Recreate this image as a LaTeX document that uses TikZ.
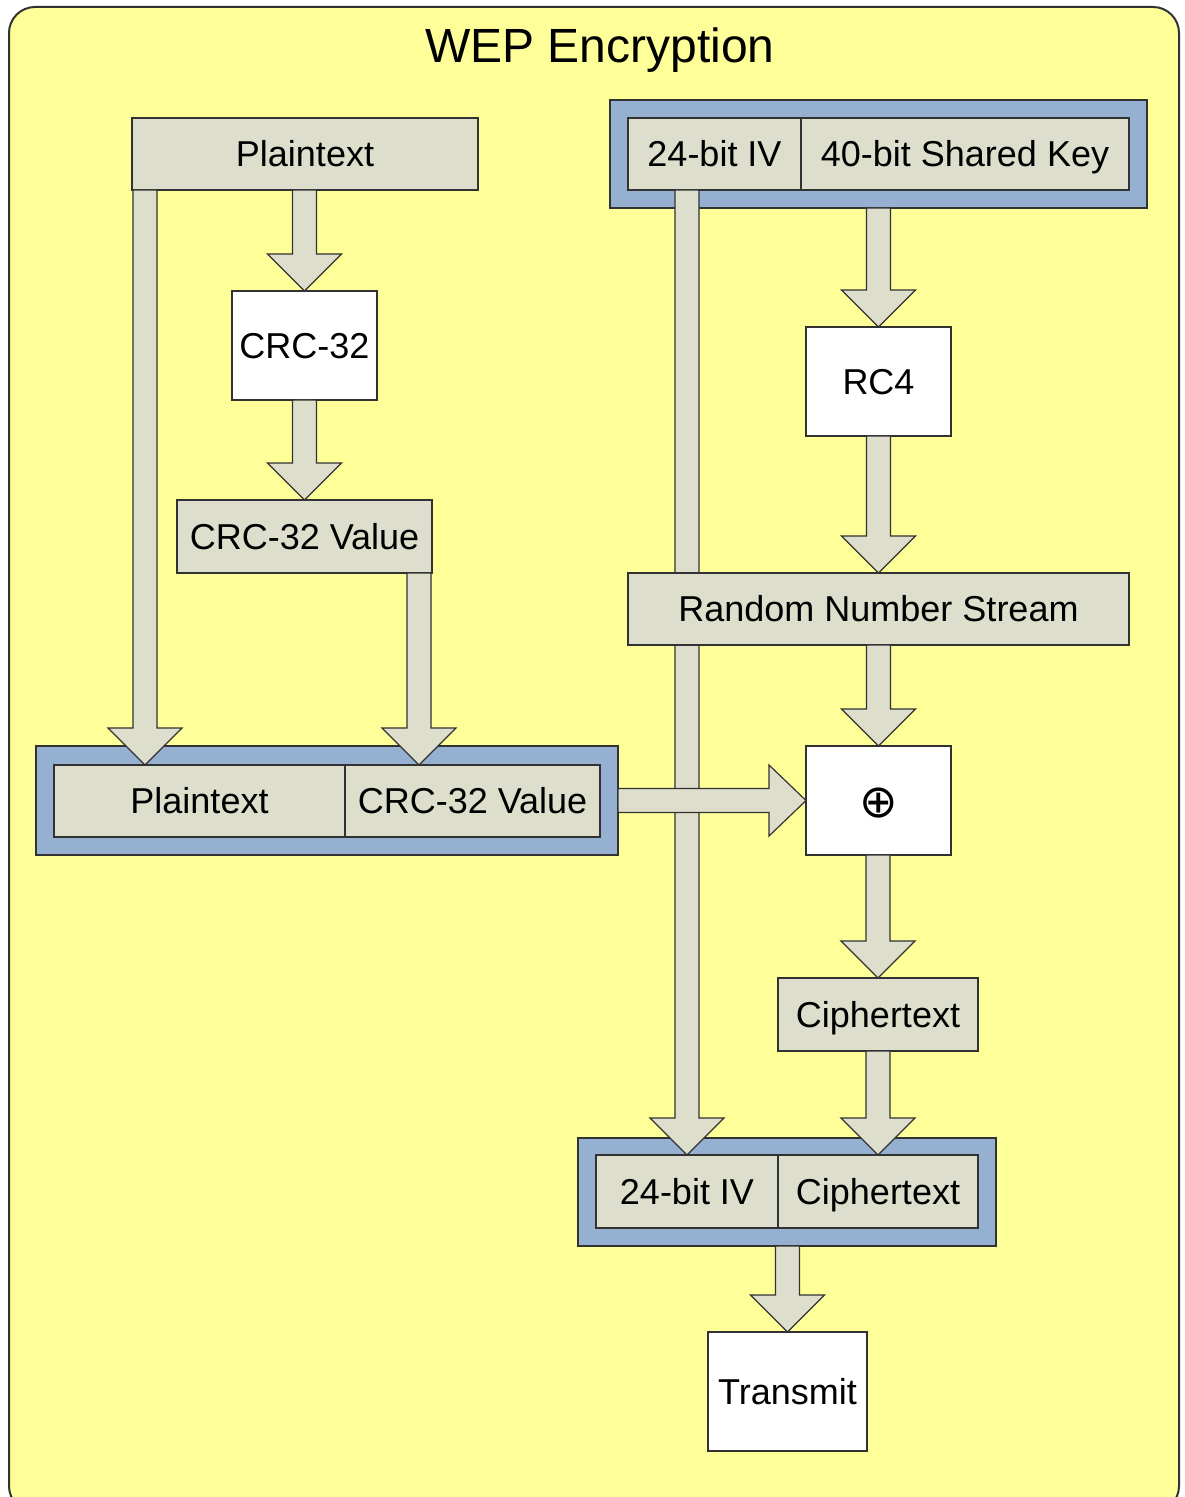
\documentclass[tikz,border=0pt]{standalone}
\usepackage{fontspec}
\setmainfont{Liberation Sans}
\newfontfamily\symbolfont{DejaVu Sans}
\usetikzlibrary{calc}

\definecolor{pagefill}{RGB}{255,255,153}
\definecolor{cellfill}{RGB}{221,222,204}
\definecolor{framefill}{RGB}{149,176,209}
\definecolor{edge}{RGB}{50,50,50}

\tikzset{
  cell/.style={draw=edge, line width=0.8pt, fill=cellfill, inner sep=0pt, outer sep=0pt,
    font=\fontsize{18}{20}\selectfont, text height=12.9pt, text depth=0pt},
  whitebox/.style={cell, fill=white},
  frame/.style={draw=edge, line width=0.8pt, fill=framefill, inner sep=0pt, outer sep=0pt},
  blockarrow/.style={draw=edge, line width=0.6pt, fill=cellfill, line join=miter},
}

% downward block arrow: shaft starts at the height of #1, tip lands on #2
\newcommand\downblock[2]{%
  \path[blockarrow] let \p1=#1, \p2=#2 in
    (\x2-6pt,\y1) -- (\x2-6pt,\y2+18.5pt) -- (\x2-18.5pt,\y2+18.5pt) -- (\x2,\y2)
    -- (\x2+18.5pt,\y2+18.5pt) -- (\x2+6pt,\y2+18.5pt) -- (\x2+6pt,\y1) -- cycle;}

% rightward block arrow: shaft starts at #1, tip lands on #2
\newcommand\rightblock[2]{%
  \path[blockarrow] let \p1=#1, \p2=#2 in
    (\x1,\y2+6pt) -- (\x2-18.5pt,\y2+6pt) -- (\x2-18.5pt,\y2+17.75pt) -- (\x2,\y2)
    -- (\x2-18.5pt,\y2-17.75pt) -- (\x2-18.5pt,\y2-6pt) -- (\x1,\y2-6pt) -- cycle;}

\begin{document}
\begin{tikzpicture}[x=0.5pt,y=-0.5pt]
\useasboundingbox (0,0) rectangle (1184,1497);
\clip (0,0) rectangle (1184,1497);
\fill[white] (0,0) rectangle (1184,1497);

% sheet
\draw[draw=edge, line width=1pt, fill=pagefill, rounded corners=13pt] (9,7) rectangle (1179,1512);
\node[font=\fontsize{24}{28}\selectfont, anchor=base, inner sep=0pt] (title) at (600,63) {WEP Encryption};

% key frame: IV + shared key
\node[frame, minimum width=268.5pt, minimum height=54pt] (keyframe) at (878.5,154) {};
\node[cell, minimum width=86.5pt, minimum height=36pt] (iv) at (714.5,154) {24-bit IV};
\node[cell, minimum width=164pt, minimum height=36pt] (key) at (965,154) {40-bit Shared Key};

% message frame: plaintext + checksum
\node[frame, minimum width=291pt, minimum height=54.5pt] (msgframe) at (327,800.5) {};
\node[cell, minimum width=145.5pt, minimum height=36pt] (msgpt) at (199.5,801) {Plaintext};
\node[cell, minimum width=127.5pt, minimum height=36pt] (msgcrc) at (472.5,801) {CRC-32 Value};

% output frame: IV + ciphertext
\node[frame, minimum width=209pt, minimum height=54pt] (outframe) at (787,1192) {};
\node[cell, minimum width=91pt, minimum height=36.5pt] (outiv) at (687,1191.5) {24-bit IV};
\node[cell, minimum width=100pt, minimum height=36.5pt] (outct) at (878,1191.5) {Ciphertext};

% IV passes straight through to the output frame (behind the stream box)
\downblock{(iv.south)}{(outiv.north)}

% processing boxes
\node[cell, minimum width=173pt, minimum height=36pt] (plain) at (305,154) {Plaintext};
\node[whitebox, minimum width=72.5pt, minimum height=54.5pt] (crc) at (304.5,345.5) {CRC-32};
\node[cell, minimum width=127.5pt, minimum height=36.5pt] (crcval) at (304.5,536.5) {CRC-32 Value};
\node[whitebox, minimum width=72.5pt, minimum height=54.5pt] (rc4) at (878.5,381.5) {RC4};
\node[cell, minimum width=250.5pt, minimum height=36pt] (stream) at (878.5,609) {Random Number Stream};
\node[whitebox, minimum width=72.5pt, minimum height=54.5pt,
      font=\symbolfont\fontsize{23}{25}\selectfont, text height=17pt] (xor) at (878.5,800.5) {⊕};
\node[cell, minimum width=100pt, minimum height=36.5pt] (cipher) at (878,1014.5) {Ciphertext};
\node[whitebox, minimum width=79.5pt, minimum height=59.5pt] (send) at (787.5,1391.5) {Transmit};

% left branch
\downblock{(plain.south)}{(crc.north)}
\downblock{(crc.south)}{(crcval.north)}
\downblock{($(plain.south west)+(13,0)$)}{($(plain.south west |- msgpt.north)+(13,0)$)}
\downblock{($(crcval.south east)+(-13,0)$)}{($(crcval.south east |- msgcrc.north)+(-13,0)$)}

% right branch
\downblock{(keyframe.south)}{(rc4.north)}
\downblock{(rc4.south)}{(stream.north)}
\downblock{(stream.south)}{(xor.north)}
\downblock{(xor.south)}{(cipher.north)}
\downblock{(cipher.south)}{(outct.north)}
\downblock{(outframe.south)}{(send.north)}

% message into the XOR
\rightblock{(msgframe.east)}{(xor.west)}
\end{tikzpicture}
\end{document}
